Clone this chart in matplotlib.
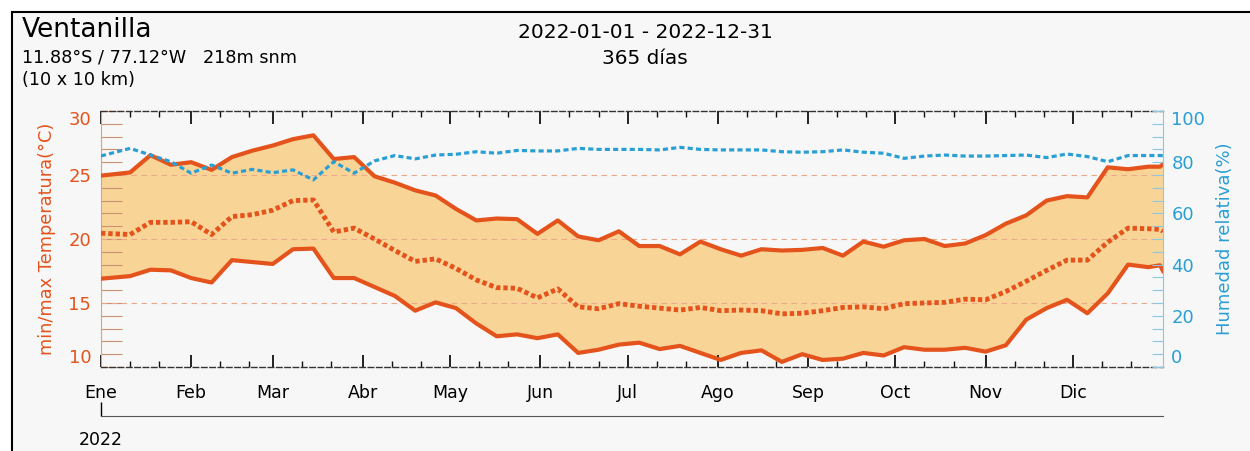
import numpy as np
import matplotlib
matplotlib.use('Agg')
import matplotlib.pyplot as plt
from matplotlib.patches import Rectangle

# datos semanales (dia del año)
days = [0, 10, 17, 24, 31, 38, 45, 52, 59, 66,
        73, 80, 87, 94, 101, 108, 115, 122, 129, 136,
        143, 150, 157, 164, 171, 178, 185, 192, 199, 206,
        213, 220, 227, 234, 241, 248, 255, 262, 269, 276,
        283, 290, 297, 304, 311, 318, 325, 332, 339, 346,
        353, 360, 364, 365]

t_max = [24.95, 25.2, 26.55, 25.8, 26.0, 25.4, 26.4, 26.9, 27.3, 27.8,
         28.1, 26.25, 26.4, 24.9, 24.4, 23.8, 23.4, 22.35, 21.45, 21.6,
         21.55, 20.4, 21.45, 20.2, 19.9, 20.6, 19.45, 19.45, 18.8, 19.8,
         19.2, 18.7, 19.2, 19.1, 19.15, 19.3, 18.7, 19.8, 19.4, 19.9,
         20.0, 19.45, 19.65, 20.3, 21.2, 21.85, 23.0, 23.35, 23.25, 25.6,
         25.45, 25.65, 25.65, 25.85]

t_min = [16.9, 17.1, 17.6, 17.55, 16.95, 16.6, 18.35, 18.2, 18.05, 19.2,
         19.25, 16.95, 16.95, 16.25, 15.55, 14.4, 15.05, 14.6, 13.4, 12.4,
         12.55, 12.25, 12.55, 11.1, 11.35, 11.75, 11.9, 11.4, 11.65, 11.1,
         10.55, 11.1, 11.3, 10.4, 11.0, 10.55, 10.65, 11.1, 10.9, 11.55,
         11.35, 11.35, 11.5, 11.2, 11.7, 13.7, 14.6, 15.25, 14.2, 15.75,
         18.0, 17.8, 17.95, 17.5]

t_mean = [20.45, 20.35, 21.3, 21.3, 21.35, 20.35, 21.75, 21.9, 22.25, 23.0,
          23.05, 20.55, 20.85, 20.0, 19.1, 18.25, 18.45, 17.7, 16.8, 16.2,
          16.15, 15.4, 16.1, 14.7, 14.55, 14.95, 14.75, 14.6, 14.45, 14.65,
          14.4, 14.45, 14.4, 14.15, 14.2, 14.4, 14.65, 14.7, 14.55, 14.95,
          15.0, 15.05, 15.3, 15.25, 15.9, 16.7, 17.55, 18.35, 18.35, 19.75,
          20.85, 20.8, 20.75, 20.6]

humedad = [82.45, 85.4, 82.8, 80.2, 75.7, 78.9, 75.7, 77.2, 75.9, 77.0,
           73.1, 80.2, 75.7, 80.5, 82.6, 81.3, 82.8, 83.1, 84.1, 83.5,
           84.6, 84.4, 84.4, 85.4, 85.0, 85.0, 85.0, 84.8, 85.8, 85.0,
           84.8, 84.8, 84.8, 84.1, 83.9, 84.1, 84.8, 83.9, 83.5, 81.5,
           82.4, 82.8, 82.4, 82.4, 82.6, 82.8, 81.8, 83.2, 82.2, 80.2,
           82.6, 82.6, 82.6, 82.6]

meses = ['Ene', 'Feb', 'Mar', 'Abr', 'May', 'Jun', 'Jul', 'Ago', 'Sep', 'Oct', 'Nov', 'Dic']
inicio_mes = [0, 31, 59, 90, 120, 151, 181, 212, 243, 273, 304, 334]

c_temp = '#e5531c'
c_fill = '#f8d597'
c_hum = '#2a9fd4'
c_bg = '#f7f7f7'

fig = plt.figure(figsize=(12.5, 4.51), dpi=100)
fig.patch.set_facecolor('white')
fig.add_artist(Rectangle((12 / 1250, -0.05), 1.1, (451 - 12) / 451 + 0.05,
                         transform=fig.transFigure, facecolor=c_bg,
                         edgecolor='black', lw=1.5, zorder=-10))

ax = fig.add_axes([101 / 1250, 84 / 451, 1062 / 1250, 256 / 451])
ax.set_facecolor(c_bg)

# temperatura
ax.fill_between(days, t_min, t_max, color=c_fill, lw=0, zorder=1)
ax.plot(days, t_max, color=c_temp, lw=3, zorder=3)
ax.plot(days, t_min, color=c_temp, lw=3, zorder=3)
ax.plot(days, t_mean, color=c_temp, lw=3.5, ls=(0, (0.9, 0.6)), zorder=3)
for yv in [15, 20, 25]:
    ax.axhline(yv, color='#eca88a', lw=0.8, ls=(0, (5, 4)), zorder=2)

ax.set_xlim(0, 365)
ax.set_ylim(10, 30)
ax.set_xticks(inicio_mes)
ax.set_xticklabels(meses, fontsize=12.5)
ax.set_xticks([m + d for m in inicio_mes for d in (10, 20)], minor=True)
ax.tick_params(axis='x', which='major', direction='in', length=9, width=1.3,
               top=True, bottom=True, pad=12, color='#111111')
ax.tick_params(axis='x', which='minor', direction='in', length=4, width=1,
               top=True, bottom=True, color='#111111')

ax.set_yticks([10, 15, 20, 25, 30])
ax.set_yticks(np.arange(10, 31, 1), minor=True)
ax.tick_params(axis='y', which='both', direction='in', length=15, width=0.8,
               color='#c89070', labelcolor=c_temp, labelsize=13, pad=7)
ax.set_ylabel('min/max Temperatura(°C)', color=c_temp, fontsize=12.8, labelpad=9)

for s in ['top', 'bottom']:
    ax.spines[s].set_linestyle((0, (4, 2)))
    ax.spines[s].set_color('#333333')
    ax.spines[s].set_linewidth(1)
ax.spines['left'].set_color('#e0a078')
ax.spines['right'].set_visible(False)

# humedad
ax2 = ax.twinx()
ax2.plot(days, humedad, color=c_hum, lw=2.3, ls=(0, (1.6, 1.0)), zorder=4)
ax2.set_ylim(0, 100)
ax2.set_yticks([0, 20, 40, 60, 80, 100])
ax2.set_yticks(np.arange(0, 101, 5), minor=True)
ax2.tick_params(axis='y', which='both', direction='in', length=8, width=0.8,
                color='#8cc8e4', labelcolor=c_hum, labelsize=13, pad=6)
ax2.set_ylabel('Humedad relativa(%)', color=c_hum, fontsize=13, labelpad=8)
ax2.spines['right'].set_color('#8cc8e4')
for s in ['top', 'bottom', 'left']:
    ax2.spines[s].set_visible(False)

fig.canvas.draw()
lab = ax.get_yticklabels()
lab[0].set_va('bottom')
lab[-1].set_va('top')
lab2 = ax2.get_yticklabels()
lab2[0].set_va('bottom')
lab2[-1].set_va('top')

# eje del año
ax3 = fig.add_axes([101 / 1250, 35 / 451, 1062 / 1250, 0.001])
ax3.set_xlim(0, 365)
ax3.patch.set_alpha(0)
for s in ['top', 'left', 'right']:
    ax3.spines[s].set_visible(False)
ax3.spines['bottom'].set_color('#555555')
ax3.set_yticks([])
ax3.set_xticks([0])
ax3.set_xticklabels(['2022'], fontsize=12.5)
ax3.tick_params(axis='x', direction='in', length=10, width=1, pad=11)

# textos
fig.text(22 / 1250, 1 - 30 / 451, 'Ventanilla', fontsize=19, va='center', ha='left')
fig.text(22 / 1250, 1 - 58 / 451, '11.88°S / 77.12°W   218m snm', fontsize=12.7, va='center', ha='left')
fig.text(22 / 1250, 1 - 80 / 451, '(10 x 10 km)', fontsize=12.7, va='center', ha='left')
fig.text(645 / 1250, 1 - 32 / 451, '2022-01-01 - 2022-12-31', fontsize=14.5, va='center', ha='center')
fig.text(645 / 1250, 1 - 58 / 451, '365 días', fontsize=14.5, va='center', ha='center')

fig.savefig('out.png', dpi=100, facecolor=fig.get_facecolor())
